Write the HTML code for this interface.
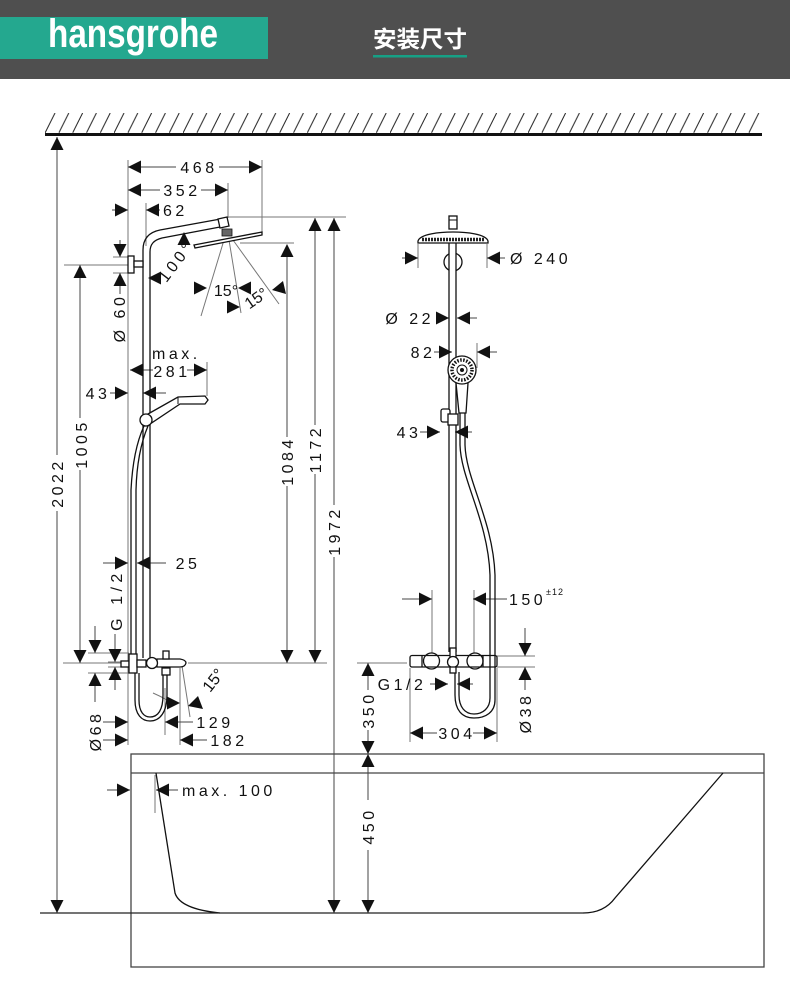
<!DOCTYPE html>
<html><head><meta charset="utf-8"><style>
html,body{margin:0;padding:0;background:#fff;}
svg{display:block;}
.t{font-family:"Liberation Sans",sans-serif;font-size:16px;letter-spacing:3.5px;fill:#111;}
.g{stroke:#777;stroke-width:1;fill:none;}
.dm{stroke:#444;stroke-width:1;fill:none;}
.ob{stroke:#111;stroke-width:1.3;fill:none;}
.obw{stroke:#111;stroke-width:1.3;fill:#fff;}
</style></head><body>
<svg width="790" height="1004" viewBox="0 0 790 1004" xmlns="http://www.w3.org/2000/svg">
<defs>
<path id="r" d="M0,0 L-13,-6.5 L-13,6.5Z" fill="#111"/>
<path id="l" d="M0,0 L13,-6.5 L13,6.5Z" fill="#111"/>
<path id="d" d="M0,0 L-6.5,-13 L6.5,-13Z" fill="#111"/>
<path id="u" d="M0,0 L-6.5,13 L6.5,13Z" fill="#111"/>
<pattern id="h" patternUnits="userSpaceOnUse" x="45" y="113" width="13.8" height="20">
<line x1="0" y1="20" x2="10" y2="0" stroke="#222" stroke-width="1"/>
</pattern>
</defs>

<!-- header -->
<rect x="0" y="0" width="790" height="79" fill="#4f4f4f"/>
<rect x="0" y="17" width="268" height="42" fill="#24a88f"/>
<text transform="translate(48,47) scale(1,1.22)" font-family="Liberation Sans, sans-serif" font-weight="bold" font-size="33" fill="#fff" textLength="170" lengthAdjust="spacingAndGlyphs">hansgrohe</text>
<text x="373" y="47" font-family="Liberation Sans, Noto Sans CJK SC, sans-serif" font-weight="bold" font-size="23" fill="#fff" textLength="94" lengthAdjust="spacingAndGlyphs">安装尺寸</text>
<rect x="373" y="55" width="94" height="2.5" fill="#16a085"/>

<!-- ceiling -->
<rect x="45" y="113" width="717" height="20" fill="url(#h)"/>
<rect x="45" y="133" width="717" height="3" fill="#111"/>

<!-- ===== LEFT DIAGRAM ===== -->
<!-- gray extension lines -->
<path class="g" d="M128,160 V745 M262,160 V234 M228,183 V218 M146,203 V246 M228,217 H346 M240,243 H294 M64,265 H128 M113,257 H128 M113,273 H128 M63,663 H122 M188,663 H327 M88,653 H129 M88,673 H129 M108,662 H121 M108,667 H121 M207,362 V396 M224,240 L201,316 M229,240 L241,313 M233,240 L279,304 M182,666 L190,717 M180,668 V745 M165,688 V735 M153,693 Q160,696 167,700"/>
<!-- dimension lines -->
<path class="dm" d="M57,137 V455 M57,511 V913 M80,265 V418 M80,470 V663 M128,167 H176 M219,167 H262 M128,190 H160 M201,190 H228 M112,210 H128 M146,210 H160 M287,245 V437 M287,486 V663 M315,218 V425 M315,474 V663 M334,218 V505 M334,557 V913 M120,240 V257 M120,273 V294 M130,370 H153 M187,370 H207 M110,393 H128 M143,393 H166 M103,563 H128 M137,563 H166 M95,626 V653 M95,673 V702 M115,634 V662 M115,667 V690 M103,722 H128 M165,722 H193 M103,740 H128 M180,740 H207"/>

<!-- shower pole + arm -->
<path class="ob" d="M143,658 V250 C143,238 150,232 160,230 L226,218"/>
<path class="ob" d="M150,658 V252 C150,244 154,240 162,238 L220,227"/>
<polygon class="obw" points="218,219 227,217 229,226 220,228"/>
<rect x="222" y="229" width="10" height="7" fill="#666" stroke="#111" stroke-width="0.8"/>
<polygon class="obw" points="194,245 262,232 262,235 195,248"/>
<!-- wall bracket -->
<rect class="obw" x="128" y="256" width="6" height="17"/>
<rect class="obw" x="134" y="261" width="9" height="6"/>

<!-- handshower side -->
<path class="ob" d="M144,426 Q133,450 131,490 L131,655"/>
<path class="ob" d="M148,426 Q137,452 136,490 L136,655"/>
<polygon class="obw" points="148,414 178,397 205,396 208,400 205,404 180,404 150,424"/>
<line x1="178" y1="397" x2="178" y2="404" stroke="#111" stroke-width="1"/>
<circle class="obw" cx="146" cy="420" r="6"/>

<!-- mixer left -->
<path class="ob" d="M135,673 L135,700 C135,715 142,721 150,721 C160,721 167,712 167,695 L167,675"/>
<path class="ob" d="M139,673 L139,700 C139,712 144,717 150,717 C158,717 163,710 163,695 L163,675"/>
<rect class="obw" x="121" y="661" width="8" height="6"/>
<rect class="obw" x="129" y="654" width="8" height="19"/>
<rect class="obw" x="137" y="660" width="9" height="7"/>
<path class="obw" d="M157,659 L180,659 Q186,660 186,663 Q185,667 180,667 L157,667 Z"/>
<circle class="obw" cx="152" cy="663" r="5.5"/>
<rect class="obw" x="163" y="651" width="6" height="8"/>
<rect class="obw" x="162" y="668" width="8" height="7"/>

<!-- arrows left -->
<use href="#u" x="57" y="137"/><use href="#d" x="57" y="913"/>
<use href="#u" x="80" y="265"/><use href="#d" x="80" y="663"/>
<use href="#l" x="128" y="167"/><use href="#r" x="262" y="167"/>
<use href="#l" x="128" y="190"/><use href="#r" x="228" y="190"/>
<use href="#r" x="128" y="210"/><use href="#l" x="146" y="210"/>
<use href="#u" x="287" y="244"/><use href="#d" x="287" y="663"/>
<use href="#u" x="315" y="218"/><use href="#d" x="315" y="663"/>
<use href="#u" x="334" y="218"/><use href="#d" x="334" y="913"/>
<use href="#d" x="120" y="257"/><use href="#u" x="120" y="273"/>
<use href="#u" x="184" y="232"/><use href="#l" x="148" y="278"/>
<use href="#r" x="207" y="288"/><use href="#l" x="238" y="288"/>
<use href="#r" x="240" y="307"/>
<polygon points="272,290 283,281 286,294" fill="#111"/>
<use href="#l" x="130" y="370"/><use href="#r" x="207" y="370"/>
<use href="#r" x="128" y="393"/><use href="#l" x="143" y="393"/>
<use href="#r" x="128" y="563"/><use href="#l" x="137" y="563"/>
<use href="#d" x="95" y="653"/><use href="#u" x="95" y="673"/>
<use href="#d" x="115" y="662"/><use href="#u" x="115" y="667"/>
<use href="#r" x="180" y="703"/>
<polygon points="188,706 198,696 203,709" fill="#111"/>
<use href="#r" x="128" y="722"/><use href="#l" x="165" y="722"/>
<use href="#r" x="128" y="740"/><use href="#l" x="180" y="740"/>

<!-- texts left -->
<text class="t" x="199" y="167" dy=".36em" text-anchor="middle">468</text>
<text class="t" x="182" y="190" dy=".36em" text-anchor="middle">352</text>
<text class="t" x="163" y="210" dy=".36em">62</text>
<text class="t" transform="translate(176,261) rotate(-53)" dy=".36em" text-anchor="middle">100°</text>
<text class="t" x="226" y="290" dy=".36em" text-anchor="middle" style="letter-spacing:0">15°</text>
<text class="t" transform="translate(256,298) rotate(-35)" dy=".36em" text-anchor="middle" style="letter-spacing:0">15°</text>
<text class="t" transform="translate(119,318) rotate(-90)" dy=".36em" text-anchor="middle">Ø 60</text>
<text class="t" x="152" y="353" dy=".36em">max.</text>
<text class="t" x="172" y="371" dy=".36em" text-anchor="middle">281</text>
<text class="t" x="98" y="393" dy=".36em" text-anchor="middle">43</text>
<text class="t" transform="translate(57,483) rotate(-90)" dy=".36em" text-anchor="middle">2022</text>
<text class="t" transform="translate(81,444) rotate(-90)" dy=".36em" text-anchor="middle">1005</text>
<text class="t" transform="translate(287,461) rotate(-90)" dy=".36em" text-anchor="middle">1084</text>
<text class="t" transform="translate(315,449) rotate(-90)" dy=".36em" text-anchor="middle">1172</text>
<text class="t" transform="translate(334,531) rotate(-90)" dy=".36em" text-anchor="middle">1972</text>
<text class="t" x="188" y="563" dy=".36em" text-anchor="middle">25</text>
<text class="t" transform="translate(116,600) rotate(-90)" dy=".36em" text-anchor="middle" style="letter-spacing:4.5px">G 1/2</text>
<text class="t" transform="translate(213,680) rotate(-52)" dy=".36em" text-anchor="middle" style="letter-spacing:0">15°</text>
<text class="t" transform="translate(95,731) rotate(-90)" dy=".36em" text-anchor="middle">Ø68</text>
<text class="t" x="215" y="722" dy=".36em" text-anchor="middle">129</text>
<text class="t" x="229" y="740" dy=".36em" text-anchor="middle">182</text>

<!-- ===== RIGHT DIAGRAM ===== -->
<path class="g" d="M418,244 V268 M487,244 V268 M477,343 V368 M432,590 V655 M474,590 V655 M497,656 H535 M497,667 H535 M410,668 V742 M497,668 V742 M357,663 H407"/>
<path class="dm" d="M402,258 H418 M487,258 H505 M436,318 H449 M457,318 H477 M434,352 H452 M477,352 H497 M420,432 H440 M455,432 H472 M402,599 H432 M473,599 H507 M525,628 V656 M525,667 V690 M430,684 H448 M457,684 H473 M410,733 H437 M473,733 H497 M368,663 V690 M368,730 V754 M368,754 V800 M368,850 V913"/>

<!-- hose right -->
<path class="ob" d="M465,413 L465,445 C466,480 493,520 495,575 L495,700 C495,712 486,718 474,718 C462,718 455,710 455,695 L455,672"/>
<path class="ob" d="M460,413 L460,445 C461,480 488,520 490,575 L490,698 C490,708 483,714 474,714 C465,714 459,707 459,695 L459,672"/>
<!-- bracket ring -->
<circle cx="453" cy="262" r="9" class="ob"/>
<rect x="449.5" y="250" width="6" height="24" fill="#fff"/>
<!-- pole -->
<path class="ob" d="M449,243 V652 M456,243 V652"/>
<!-- head -->
<rect class="obw" x="449" y="216" width="8" height="13"/>
<line x1="449" y1="220" x2="457" y2="220" stroke="#111" stroke-width="1"/>
<path class="obw" d="M418,241 C420,234 440,232 453,232 C466,232 486,234 488,241 L488,243 L418,243 Z"/>
<line x1="422" y1="239.5" x2="484" y2="239.5" stroke="#222" stroke-width="3.5" stroke-dasharray="2,1"/>
<!-- handshower front -->
<polygon class="obw" points="456,383 468,383 466,413 459,413"/>
<circle class="obw" cx="462" cy="370" r="14"/>
<circle cx="462" cy="370" r="10" fill="none" stroke="#111" stroke-width="3.5" stroke-dasharray="1.5,1.5"/>
<circle cx="462" cy="370" r="5" fill="none" stroke="#111" stroke-width="1"/>
<circle cx="462" cy="370" r="2" fill="#111"/>
<!-- holder -->
<rect class="obw" x="441" y="409" width="9" height="13" rx="2"/>
<rect class="obw" x="448" y="414" width="10" height="11"/>
<!-- thermostat mixer -->
<circle class="obw" cx="431.5" cy="661" r="8"/>
<circle class="obw" cx="475" cy="661" r="8"/>
<rect x="410" y="655.5" width="87" height="11.5" rx="2" fill="none" stroke="#111" stroke-width="1.3"/>
<path class="ob" d="M422,656 V667 M483,656 V667"/>
<rect class="obw" x="450" y="648" width="6" height="9"/>
<circle class="obw" cx="453" cy="662" r="5.5"/>
<rect class="obw" x="450" y="667" width="6" height="6"/>

<!-- arrows right -->
<use href="#r" x="418" y="258"/><use href="#l" x="487" y="258"/>
<use href="#r" x="449" y="318"/><use href="#l" x="457" y="318"/>
<use href="#r" x="452" y="352"/><use href="#l" x="477" y="352"/>
<use href="#r" x="440" y="432"/><use href="#l" x="455" y="432"/>
<use href="#r" x="432" y="599"/><use href="#l" x="473" y="599"/>
<use href="#d" x="525" y="656"/><use href="#u" x="525" y="667"/>
<use href="#r" x="448" y="684"/><use href="#l" x="457" y="684"/>
<use href="#l" x="410" y="733"/><use href="#r" x="497" y="733"/>
<use href="#u" x="368" y="663"/><use href="#d" x="368" y="754"/>
<use href="#u" x="368" y="754"/><use href="#d" x="368" y="913"/>

<!-- texts right -->
<text class="t" x="510" y="258" dy=".36em">Ø 240</text>
<text class="t" x="434" y="318" dy=".36em" text-anchor="end">Ø 22</text>
<text class="t" x="423" y="352" dy=".36em" text-anchor="middle">82</text>
<text class="t" x="409" y="432" dy=".36em" text-anchor="middle">43</text>
<text class="t" x="509" y="599" dy=".36em">150</text>
<text x="546" y="595" font-family="Liberation Sans, sans-serif" font-size="9" fill="#111" style="letter-spacing:1px">±12</text>
<text class="t" transform="translate(525,713) rotate(-90)" dy=".36em" text-anchor="middle">Ø38</text>
<text class="t" x="402" y="684" dy=".36em" text-anchor="middle">G1/2</text>
<text class="t" x="457" y="733" dy=".36em" text-anchor="middle">304</text>
<text class="t" transform="translate(368,710) rotate(-90)" dy=".36em" text-anchor="middle">350</text>
<text class="t" transform="translate(368,826) rotate(-90)" dy=".36em" text-anchor="middle">450</text>

<!-- ===== BATHTUB ===== -->
<rect x="131" y="754" width="633" height="213" fill="none" stroke="#444" stroke-width="1.3"/>
<line x1="131" y1="773" x2="764" y2="773" stroke="#444" stroke-width="1.3"/>
<path class="ob" d="M156,773 L175,893 Q180,909 220,913"/>
<path class="ob" d="M583,913 Q604,913 615,898 L723,773"/>
<line x1="40" y1="913" x2="583" y2="913" stroke="#222" stroke-width="1.2"/>
<!-- max 100 -->
<path class="g" d="M155,775 V813"/>
<path class="dm" d="M107,790 H130 M156,790 H178"/>
<use href="#r" x="130" y="790"/><use href="#l" x="156" y="790"/>
<text class="t" x="182" y="790" dy=".36em">max. 100</text>
</svg>
</body></html>
